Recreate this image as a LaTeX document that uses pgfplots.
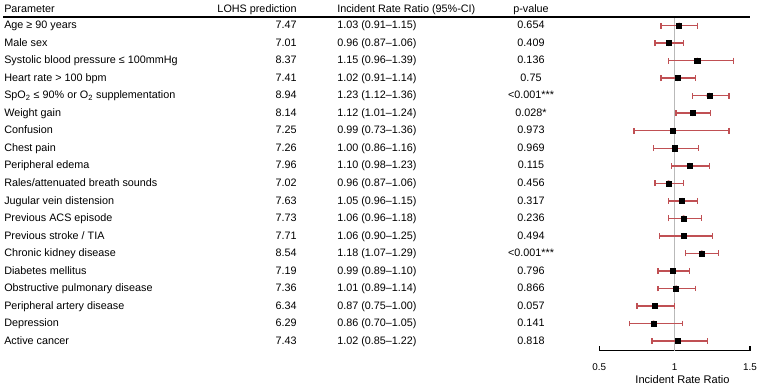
\documentclass[border=0pt]{standalone}
\usepackage{pgfplots}
\usepackage{pgfplotstable}
\pgfplotsset{compat=1.18}
\usepackage{fontspec}
\setmainfont{Liberation Sans}
\definecolor{errc}{RGB}{192,80,84}
\definecolor{refgray}{RGB}{185,185,185}
\pgfplotstableread{
x y em ep
1.03 19 0.12 0.12
0.96 18 0.09 0.10
1.15 17 0.19 0.24
1.02 16 0.11 0.12
1.23 15 0.11 0.13
1.12 14 0.11 0.12
0.99 13 0.26 0.37
1.00 12 0.14 0.16
1.10 11 0.12 0.13
0.96 10 0.09 0.10
1.05 9 0.09 0.10
1.06 8 0.10 0.12
1.06 7 0.16 0.19
1.18 6 0.11 0.11
0.99 5 0.10 0.11
1.01 4 0.12 0.13
0.87 3 0.12 0.13
0.86 2 0.16 0.19
1.02 1 0.17 0.20
}\irrtable
\begin{document}
\fontsize{8.1}{9.5}\selectfont
\begin{tikzpicture}[x=0.75pt,y=-0.75pt]
\path[use as bounding box] (0,0) rectangle (758,387);
\begin{axis}[
  at={(449.475pt,-262.875pt)}, anchor=south west,
  scale only axis, width=113.025pt, height=250.125pt,
  xmin=0.5, xmax=1.5, ymin=0.458, ymax=19.491,
  axis x line*=bottom, axis y line=none,
  axis line style={line width=0.9pt, black},
  xtick={0.5,1,1.5}, xticklabels={0.5,1,1.5},
  ytick=\empty,
  tick align=inside, major tick length=3.75pt,
  tick style={line width=0.9pt, black},
  xticklabel style={font=\fontsize{7.4}{8}\selectfont, yshift=-7pt},
  /pgf/number format/assume math mode=true,
  clip=false,
]
\addplot[refgray, line width=1.2pt] coordinates {(1,0.458) (1,19.491)};
\addplot[errc, draw=errc, only marks, mark=none,
  error bars/.cd, x dir=both, x explicit,
  error mark=|,
  error bar style={draw=errc, line width=1.1pt},
  error mark options={draw=errc, line width=1pt, mark size=2.2pt}]
  table[x=x, y=y, x error minus=em, x error plus=ep] {\irrtable};
\addplot[only marks, mark=square*, mark size=1.9pt, black]
  table[x=x, y=y] {\irrtable};
\end{axis}
\draw[line width=0.9pt] (3,17) -- (750,17);
\node[anchor=base west,inner sep=0] at (4,12.8) {Parameter};
\node[anchor=base east,inner sep=0] at (297,12.8) {LOHS prediction};
\node[anchor=base west,inner sep=0] at (337,12.8) {Incident Rate Ratio (95\%-CI)};
\node[anchor=base,inner sep=0] at (531,12.8) {p-value};
\node[anchor=center,inner sep=0,font=\fontsize{8.3}{9.5}\selectfont] at (682.5,380) {Incident Rate Ratio};
\foreach \name/\lohs/\irr/\pv [count=\i] in {
 {Age ≥ 90 years}/7.47/{1.03 (0.91–1.15)}/0.654,
 {Male sex}/7.01/{0.96 (0.87–1.06)}/0.409,
 {Systolic blood pressure ≤ 100mmHg}/8.37/{1.15 (0.96–1.39)}/0.136,
 {Heart rate > 100 bpm}/7.41/{1.02 (0.91–1.14)}/0.75,
 {SpO\textsubscript{2} ≤ 90\% or O\textsubscript{2} supplementation}/8.94/{1.23 (1.12–1.36)}/{<0.001***},
 {Weight gain}/8.14/{1.12 (1.01–1.24)}/{0.028*},
 {Confusion}/7.25/{0.99 (0.73–1.36)}/0.973,
 {Chest pain}/7.26/{1.00 (0.86–1.16)}/0.969,
 {Peripheral edema}/7.96/{1.10 (0.98–1.23)}/0.115,
 {Rales/attenuated breath sounds}/7.02/{0.96 (0.87–1.06)}/0.456,
 {Jugular vein distension}/7.63/{1.05 (0.96–1.15)}/0.317,
 {Previous ACS episode}/7.73/{1.06 (0.96–1.18)}/0.236,
 {Previous stroke / TIA}/7.71/{1.06 (0.90–1.25)}/0.494,
 {Chronic kidney disease}/8.54/{1.18 (1.07–1.29)}/{<0.001***},
 {Diabetes mellitus}/7.19/{0.99 (0.89–1.10)}/0.796,
 {Obstructive pulmonary disease}/7.36/{1.01 (0.89–1.14)}/0.866,
 {Peripheral artery disease}/6.34/{0.87 (0.75–1.00)}/0.057,
 {Depression}/6.29/{0.86 (0.70–1.05)}/0.141,
 {Active cancer}/7.43/{1.02 (0.85–1.22)}/0.818%
}{
 \pgfmathsetmacro\yb{28.8+(\i-1)*17.52}
 \node[anchor=base west,inner sep=0] at (4,\yb) {\name};
 \node[anchor=base east,inner sep=0] at (297,\yb) {\lohs};
 \node[anchor=base west,inner sep=0] at (337,\yb) {\irr};
 \node[anchor=base,inner sep=0] at (531,\yb) {\pv};
}
\end{tikzpicture}
\end{document}
